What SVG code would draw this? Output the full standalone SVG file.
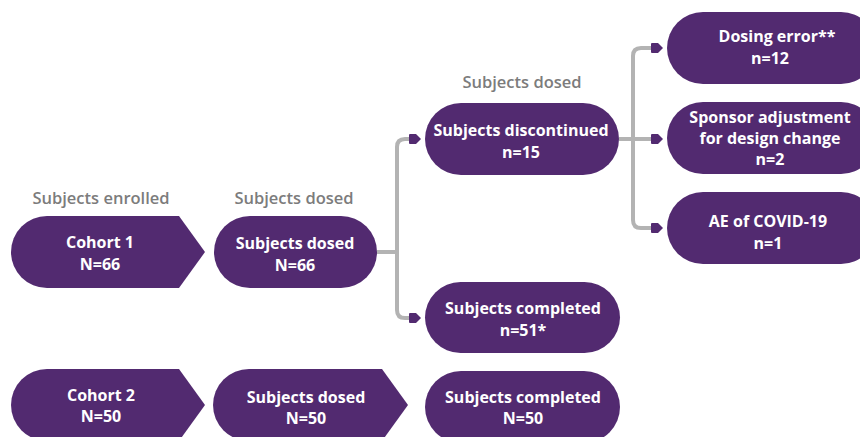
<svg xmlns="http://www.w3.org/2000/svg" width="860" height="437" viewBox="0 0 860 437">
<style>
.n{fill:#522a70}
.t{font-family:"Open Sans","Liberation Sans",sans-serif;font-weight:700;font-size:16px;fill:#fff;text-anchor:middle}
.h{font-family:"Open Sans","Liberation Sans",sans-serif;font-weight:600;font-size:16.5px;fill:#7c7c7c;text-anchor:middle}
.c{fill:none;stroke:#b3b3b3;stroke-width:4;marker-end:url(#ah)}
.c2{fill:none;stroke:#b3b3b3;stroke-width:4}
</style>
<defs>
<marker id="ah" markerUnits="userSpaceOnUse" markerWidth="14" markerHeight="12" refX="0" refY="6" orient="auto" overflow="visible">
<path d="M0,1.5 Q0,1 1,1 H7 L12,6 L7,11 H1 Q0,11 0,10 Z" fill="#522a70"/>
</marker>
</defs>
<rect width="860" height="437" fill="#fff"/>
<text class="h" x="101" y="204">Subjects enrolled</text>
<text class="h" x="294" y="204">Subjects dosed</text>
<text class="h" x="522" y="88">Subjects dosed</text>
<g id="connectors">
<path class="c2" d="M377,252 H397"/>
<path class="c" d="M397,252 V147 Q397,139 405,139 H409"/>
<path class="c" d="M397,252 V310 Q397,318 405,318 H409"/>
<path class="c2" d="M619,139 H633"/>
<path class="c" d="M633,139 V56 Q633,48 641,48 H651"/>
<path class="c" d="M633,139 H651"/>
<path class="c" d="M633,139 V220 Q633,228 641,228 H651"/>
</g>
<g id="cohort1">
<path class="n" d="M47,216 H179 L205,252 L179,288 H47 A36,36 0 0 1 47,216 Z"/>
<text class="t" x="100" y="248">Cohort 1</text>
<text class="t" x="100" y="270">N=66</text>
</g>
<g id="dosed1">
<rect class="n" x="214" y="216" width="163" height="72" rx="36"/>
<text class="t" x="295" y="249">Subjects dosed</text>
<text class="t" x="295" y="271">N=66</text>
</g>
<g id="discontinued">
<rect class="n" x="425" y="103" width="194" height="72" rx="36"/>
<text class="t" x="521" y="136">Subjects discontinued</text>
<text class="t" x="521" y="158">n=15</text>
</g>
<g id="completed1">
<rect class="n" x="425" y="282" width="195" height="71" rx="35.5"/>
<text class="t" x="523" y="314">Subjects completed</text>
<text class="t" x="523" y="336">n=51*</text>
</g>
<g id="dosing_error">
<rect class="n" x="667" y="12" width="210" height="72" rx="36"/>
<text class="t" x="777" y="42">Dosing error**</text>
<text class="t" x="770" y="64">n=12</text>
</g>
<g id="sponsor">
<rect class="n" x="667" y="102" width="210" height="72" rx="36"/>
<text class="t" x="770" y="123">Sponsor adjustment</text>
<text class="t" x="770" y="144">for design change</text>
<text class="t" x="770" y="165">n=2</text>
</g>
<g id="ae_covid">
<rect class="n" x="667" y="192" width="210" height="72" rx="36"/>
<text class="t" x="768" y="227">AE of COVID-19</text>
<text class="t" x="768" y="249">n=1</text>
</g>
<g id="cohort2">
<path class="n" d="M47,369 H179 L205,405 L179,441 H47 A36,36 0 0 1 47,369 Z"/>
<text class="t" x="101" y="401">Cohort 2</text>
<text class="t" x="101" y="422">N=50</text>
</g>
<g id="dosed2">
<path class="n" d="M249,369 H382 L408,405 L382,441 H249 A36,36 0 0 1 249,369 Z"/>
<text class="t" x="306" y="403">Subjects dosed</text>
<text class="t" x="306" y="424">N=50</text>
</g>
<g id="completed2">
<rect class="n" x="425" y="371" width="195" height="72" rx="36"/>
<text class="t" x="523" y="403">Subjects completed</text>
<text class="t" x="523" y="424">N=50</text>
</g>
</svg>
